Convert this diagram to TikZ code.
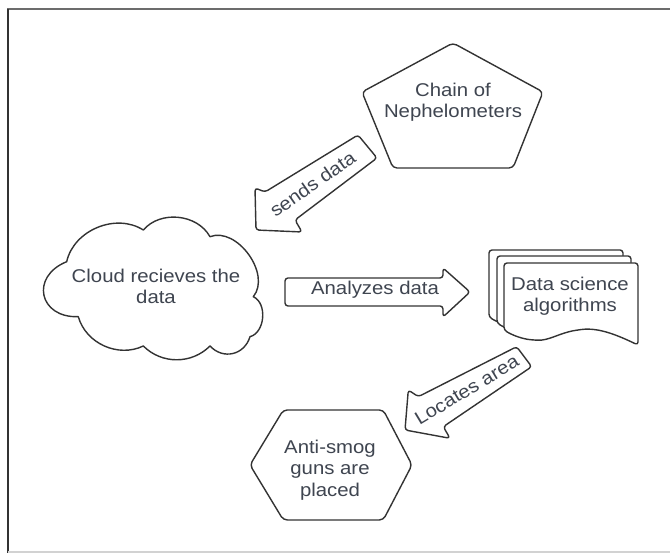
\documentclass[tikz,border=0pt]{standalone}
\usepackage{fontspec}
\setmainfont{Liberation Sans}[FakeStretch=1.1]
\definecolor{txt}{HTML}{3F4550}
\definecolor{ln}{HTML}{333333}
\begin{document}
\begin{tikzpicture}[x=1pt,y=1pt,
  shp/.style={draw=ln, line width=1.4pt, fill=white, line join=round},
  lbl/.style={text=txt, font=\fontsize{18.5}{21.3}\selectfont, align=center, inner sep=0pt}]
\useasboundingbox (0,0) rectangle (670,553);
\fill[white] (0,0) rectangle (670,553);
% frame
\draw[color=gray!85!black, line width=1.3pt] (7,544) -- (670,544);
\draw[color=ln, line width=1.3pt] (8,544) -- (8,0);
\draw[color=gray!35, line width=1.2pt] (8,1) -- (670,1);
% pentagon
\draw[shp, rounded corners=4pt] (453,510) -- (543,461) -- (513,385) -- (393,385) -- (362,461) -- cycle;
\node[lbl] (chain) at (453,451) {Chain of\\Nephelometers};
% sends data arrow
\draw[shp, rounded corners=3pt] (358,418) -- (377,395) -- (295,333) -- (302,321) -- (256,323) -- (255,365) -- (265,361) -- cycle;
\node[lbl, rotate=35] (sends) at (312.5,369) {sends data};
% cloud
\draw[shp] (66.7,291.3) to[bend left=55] (143.3,323) to[bend left=55] (210,316.3)
  to[bend left=75] (253.3,256.3) to[bend left=70] (250,216.3)
  to[bend left=60, looseness=1.2] (210,207) to[bend left=45] (143.3,207)
  to[bend left=50] (78.3,236.3) to[bend left=80, looseness=1.8] (66.7,291.3) -- cycle;
\node[lbl] (cloud) at (156,266.5) {Cloud recieves the\\data};
% analyzes arrow
\draw[shp, rounded corners=3pt] (285,275) -- (443,275) -- (443,285) -- (470,261) -- (443,236) -- (443,247) -- (285,247) -- cycle;
\node[lbl] (analyzes) at (375,263) {Analyzes data};
% documents
\foreach \dx/\dy in {489/303, 497/297, 504/290}{
  \begin{scope}[shift={(\dx,\dy)}]
  \draw[shp, rounded corners=3pt] (0,0) -- (134,0) -- (134,-82)
    .. controls (115,-73) and (95,-64) .. (74,-67)
    .. controls (55,-70) and (45,-78) .. (30,-77)
    .. controls (18,-76) and (8,-72) .. (0,-67) -- cycle;
  \end{scope}
}
\node[lbl] (algo) at (570,257) {Data science\\algorithms};
% locates arrow
\draw[shp, rounded corners=3pt] (516.7,206.3) -- (531.7,186.3) -- (443.3,126.3) -- (450,114.7) -- (405,123) -- (408.3,163) -- (418.3,156.3) -- cycle;
\node[lbl, rotate=31] (locates) at (466.7,163) {Locates area};
% hexagon
\draw[shp, rounded corners=4pt] (250,88) -- (283.3,143) -- (383.3,143) -- (412,88) -- (383.3,33) -- (283.3,33) -- cycle;
\node[lbl] (guns) at (330,83) {Anti-smog\\guns are\\placed};
\end{tikzpicture}
\end{document}
